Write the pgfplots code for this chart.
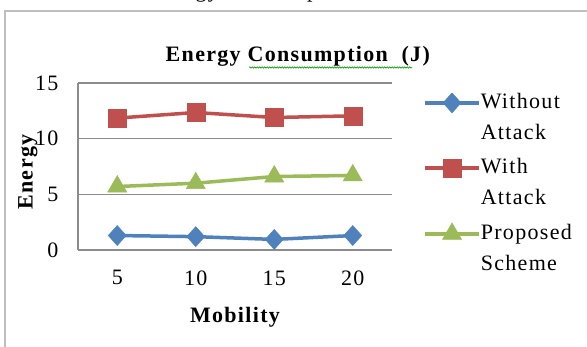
\documentclass[border=0pt]{standalone}
\usepackage{fontspec}
\setmainfont{Liberation Serif}[LetterSpace=6]
\usepackage{pgfplots}
\pgfplotsset{compat=1.18}
\usetikzlibrary{decorations.pathmorphing}
\definecolor{cblue}{HTML}{4F81BD}
\definecolor{cred}{HTML}{C0504D}
\definecolor{cgreen}{HTML}{9BBB59}
\definecolor{cgrid}{HTML}{8C8C8C}
\begin{document}
\begin{tikzpicture}
\path[use as bounding box] (0bp,0bp) rectangle (587bp,-347bp);
\draw[color=black!25, line width=1.6bp] (5bp,-347bp) -- (5bp,-11bp) -- (587bp,-11bp);
\node[anchor=base west, inner sep=0pt, font=\fontsize{22bp}{26bp}\selectfont] at (149bp,2.5bp) {Energy Consumption};
\draw[color=green!60!black, line width=0.6bp, decorate, decoration={snake, amplitude=0.7bp, segment length=2.5bp}] (249bp,-67.5bp) -- (412bp,-67.5bp);
\begin{axis}[
  at={(78bp,-250bp)}, anchor=south west,
  width=314bp, height=167bp, scale only axis,
  xmin=2.5, xmax=22.5, ymin=0, ymax=15,
  xtick={5,10,15,20}, ytick={0,5,10,15},
  ymajorgrids, grid style={cgrid, line width=1.2bp},
  axis x line*=bottom, axis y line*=left,
  axis line style={cgrid, line width=1.2bp, -},
  x axis line style={-}, y axis line style={-},
  major tick length=0pt,
  tick label style={font=\fontsize{22bp}{26bp}\selectfont},
  /pgf/number format/assume math mode=true,
  yticklabel style={xshift=-16bp},
  xticklabel style={yshift=-17bp},
  xlabel={Mobility},
  xlabel style={at={(axis description cs:0.5,-0.4)}, anchor=center, font=\fontsize{22bp}{26bp}\selectfont\bfseries},
  ylabel={Energy},
  ylabel style={at={(axis description cs:-0.16,0.467)}, anchor=center, font=\fontsize{22bp}{26bp}\selectfont\bfseries},
  title={Energy Consumption\ \ (J)},
  title style={at={(axis description cs:0.70,1.09)}, anchor=base, inner sep=0pt, font=\fontsize{22bp}{26bp}\selectfont\bfseries},
  legend style={at={(axis description cs:1.099,0.942)}, anchor=north west, draw=none, fill=none, inner sep=0pt, row sep=17bp, column sep=0bp,
     nodes={inner sep=0pt, align=left}, font=\fontsize{22bp}{31bp}\selectfont},
  legend cell align=left,
  legend image code/.code={
    \path[draw=none, fill=none] (0bp,-24bp) rectangle (54bp,24bp);
    \draw[#1, mark repeat=2, mark phase=2] plot coordinates {(0bp,14bp) (27bp,14bp) (54bp,14bp)};},
]
\addplot[color=cblue, line width=3.5bp, mark=diamond*, mark size=10bp, mark options={xscale=1.2, line width=0.5bp}] coordinates {(5,1.3) (10,1.2) (15,0.95) (20,1.3)};
\addlegendentry{Without\\Attack}
\addplot[color=cred, line width=3.5bp, mark=square*, mark size=9bp, mark options={line width=0.5bp}] coordinates {(5,11.85) (10,12.35) (15,11.9) (20,12.05)};
\addlegendentry{With\\Attack}
\addplot[color=cgreen, line width=3.5bp, mark=triangle*, mark size=11bp, mark options={line width=0.5bp}] coordinates {(5,5.7) (10,6.0) (15,6.6) (20,6.7)};
\addlegendentry{Proposed\\Scheme}
\end{axis}
\end{tikzpicture}
\end{document}
